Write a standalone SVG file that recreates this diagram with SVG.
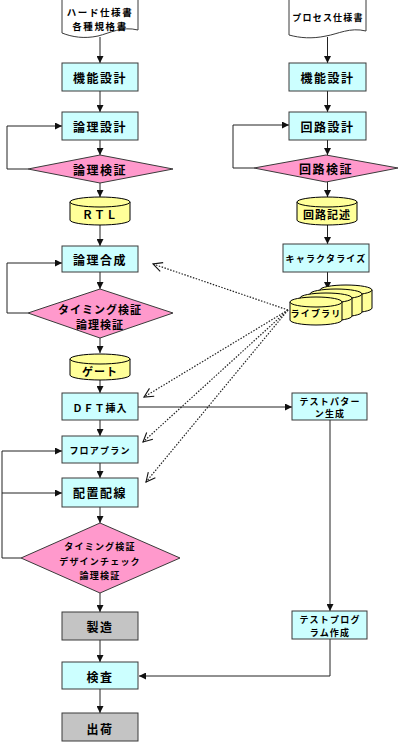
<svg xmlns="http://www.w3.org/2000/svg" width="400" height="742" viewBox="0 0 400 742">
<style>
.box{fill:#CCFFFF;stroke:#3a3a3a;stroke-width:1}
.gray{fill:#C4C4C4;stroke:#3a3a3a;stroke-width:1}
.dia{fill:#FF99CC;stroke:#3a3a3a;stroke-width:1}
.cyl{fill:#FFFF99;stroke:#000;stroke-width:1}
.doc{fill:#fff;stroke:#3a3a3a;stroke-width:1}
.ln{fill:none;stroke:#222;stroke-width:1}
.dot{fill:none;stroke:#222;stroke-width:1.2;stroke-dasharray:1.5 1.5}
text{font-family:"Noto Sans CJK JP","Noto Sans",sans-serif;font-weight:bold;fill:#000;text-anchor:middle;dominant-baseline:central}
.t12{font-size:12px;letter-spacing:1.5px}
.t11{font-size:11px;letter-spacing:1px}
.t10{font-size:10px;letter-spacing:1px}
.td{font-size:9.5px;letter-spacing:1.6px}
.t9{font-size:9px;letter-spacing:1.2px}
</style>
<defs>
<marker id="ar" viewBox="0 0 8 8" refX="8" refY="4" markerWidth="7" markerHeight="7" markerUnits="userSpaceOnUse" orient="auto">
<path d="M0,0 L8,4 L0,8 Z" fill="#111"/>
</marker>
<marker id="op" viewBox="0 0 12 12" refX="11" refY="6" markerWidth="11" markerHeight="11" markerUnits="userSpaceOnUse" orient="auto">
<path d="M1,1 L11,6 L1,11" fill="none" stroke="#111" stroke-width="1.2"/>
</marker>
</defs>

<g id="connectors">
<path class="ln" d="M100,37 V63" marker-end="url(#ar)"/>
<path class="ln" d="M100,91 V112" marker-end="url(#ar)"/>
<path class="ln" d="M100,140 V155" marker-end="url(#ar)"/>
<path class="ln" d="M100,183 V197" marker-end="url(#ar)"/>
<path class="ln" d="M100,225 V246" marker-end="url(#ar)"/>
<path class="ln" d="M100,272 V289" marker-end="url(#ar)"/>
<path class="ln" d="M100,338 V353" marker-end="url(#ar)"/>
<path class="ln" d="M100,380 V393" marker-end="url(#ar)"/>
<path class="ln" d="M100,420 V436" marker-end="url(#ar)"/>
<path class="ln" d="M100,463 V478" marker-end="url(#ar)"/>
<path class="ln" d="M100,507 V523" marker-end="url(#ar)"/>
<path class="ln" d="M100,593 V612" marker-end="url(#ar)"/>
<path class="ln" d="M100,640 V662" marker-end="url(#ar)"/>
<path class="ln" d="M100,689 V713" marker-end="url(#ar)"/>
<path class="ln" d="M28,169 H7 V126 H62" marker-end="url(#ar)"/>
<path class="ln" d="M28,313 H7 V263 H62" marker-end="url(#ar)"/>
<path class="ln" d="M21,558 H2 V451 H62" marker-end="url(#ar)"/>
<path class="ln" d="M2,493 H62" marker-end="url(#ar)"/>
<path class="ln" d="M254,168 H233 V125 H289" marker-end="url(#ar)"/>
<path class="ln" d="M327.5,37 V63" marker-end="url(#ar)"/>
<path class="ln" d="M327.5,91 V112" marker-end="url(#ar)"/>
<path class="ln" d="M327.5,140 V155" marker-end="url(#ar)"/>
<path class="ln" d="M327.5,182 V197" marker-end="url(#ar)"/>
<path class="ln" d="M327.5,225 V244" marker-end="url(#ar)"/>
<path class="ln" d="M327.5,272 V289" marker-end="url(#ar)"/>
<path class="ln" d="M138,407 H292" marker-end="url(#ar)"/>
<path class="ln" d="M330,420 V611" marker-end="url(#ar)"/>
<path class="ln" d="M330,639 V676 H139" marker-end="url(#ar)"/>
</g>

<g id="n_hard_spec">
<path class="doc" d="M62,-1 H138 V30 C122,26 110,33 98,36 C84,39 72,37 62,33 Z"/>
<text class="td" x="100" y="11.5">ハード仕様書</text>
<text class="td" x="100" y="25.5">各種規格書</text>
</g>
<g id="n_process_spec">
<path class="doc" d="M289,-1 H366 V31 C350,27 338,34 326,36 C312,39 300,38 289,35 Z"/>
<text class="t9" x="328" y="17">プロセス仕様書</text>
</g>

<g id="n_func_l"><rect class="box" x="62" y="63" width="76" height="28"/><text class="t12" x="100" y="77">機能設計</text></g>
<g id="n_logic_design"><rect class="box" x="62" y="112" width="76" height="28"/><text class="t12" x="100" y="126">論理設計</text></g>
<g id="n_logic_verify"><polygon class="dia" points="100,155 173,169 100,183 28,169"/><text class="t12" x="100" y="169">論理検証</text></g>
<g id="n_rtl">
<path class="cyl" d="M70,202 A30,5 0 0 1 130,202 V220 A30,5 0 0 1 70,220 Z"/>
<path class="cyl" d="M70,202 A30,5 0 0 0 130,202" fill="none"/>
<text class="t11" x="100" y="214">ＲＴＬ</text>
</g>
<g id="n_synth"><rect class="box" x="62" y="246" width="76" height="26"/><text class="t12" x="100" y="259">論理合成</text></g>
<g id="n_timing1"><polygon class="dia" points="100,289 173,313 100,338 28,313"/>
<text class="t11" x="100" y="309">タイミング検証</text><text class="t11" x="100" y="324">論理検証</text></g>
<g id="n_gate">
<path class="cyl" d="M70,359 A30,5 0 0 1 130,359 V375 A30,5 0 0 1 70,375 Z"/>
<path class="cyl" d="M70,359 A30,5 0 0 0 130,359" fill="none"/>
<text class="t11" x="100" y="371">ゲート</text>
</g>
<g id="n_dft"><rect class="box" x="62" y="393" width="76" height="27"/><text class="t10" x="100" y="407">ＤＦＴ挿入</text></g>
<g id="n_floor"><rect class="box" x="62" y="436" width="76" height="27"/><text class="t9" x="100" y="450">フロアプラン</text></g>
<g id="n_pnr"><rect class="box" x="62" y="478" width="76" height="29"/><text class="t12" x="100" y="492">配置配線</text></g>
<g id="n_timing2"><polygon class="dia" points="100,523 180,558 100,593 21,558"/>
<text class="t9" x="100" y="546">タイミング検証</text><text class="t9" x="100" y="561">デザインチェック</text><text class="t9" x="100" y="575">論理検証</text></g>
<g id="n_mfg"><rect class="gray" x="62" y="612" width="76" height="28"/><text class="t12" x="100" y="626">製造</text></g>
<g id="n_test"><rect class="box" x="62" y="662" width="76" height="27"/><text class="t12" x="100" y="676">検査</text></g>
<g id="n_ship"><rect class="gray" x="62" y="713" width="76" height="28"/><text class="t12" x="100" y="728">出荷</text></g>

<g id="n_func_r"><rect class="box" x="289" y="63" width="77" height="28"/><text class="t12" x="327.5" y="77">機能設計</text></g>
<g id="n_circuit_design"><rect class="box" x="289" y="112" width="77" height="28"/><text class="t12" x="327.5" y="126">回路設計</text></g>
<g id="n_circuit_verify"><polygon class="dia" points="326,155 398,168 326,182 254,168"/><text class="t12" x="326" y="168">回路検証</text></g>
<g id="n_circuit_desc">
<path class="cyl" d="M297,202 A30,5 0 0 1 357,202 V220 A30,5 0 0 1 297,220 Z"/>
<path class="cyl" d="M297,202 A30,5 0 0 0 357,202" fill="none"/>
<text class="t11" x="327" y="214">回路記述</text>
</g>
<g id="n_character"><rect class="box" x="283" y="244" width="86" height="28"/><text class="t9" x="326" y="258">キャラクタライズ</text></g>
<g id="n_library">
<path class="cyl" d="M320,290 A26,5 0 0 1 372,290 V308 A26,5 0 0 1 320,308 Z"/><path class="cyl" d="M320,290 A26,5 0 0 0 372,290" fill="none"/>
<path class="cyl" d="M310,294 A26,5 0 0 1 362,294 V312 A26,5 0 0 1 310,312 Z"/><path class="cyl" d="M310,294 A26,5 0 0 0 362,294" fill="none"/>
<path class="cyl" d="M300,298 A26,5 0 0 1 352,298 V316 A26,5 0 0 1 300,316 Z"/><path class="cyl" d="M300,298 A26,5 0 0 0 352,298" fill="none"/>
<path class="cyl" d="M290,302 A26,5 0 0 1 342,302 V320 A26,5 0 0 1 290,320 Z"/><path class="cyl" d="M290,302 A26,5 0 0 0 342,302" fill="none"/>
<text class="t9" x="316" y="313">ライブラリ</text>
</g>
<g id="n_testpattern"><rect class="box" x="292" y="393" width="75" height="27"/>
<text class="t9" x="330" y="401">テストパター</text><text class="t9" x="330" y="413">ン生成</text></g>
<g id="n_testprog"><rect class="box" x="292" y="611" width="75" height="28"/>
<text class="t9" x="330" y="619">テストプログ</text><text class="t9" x="330" y="632">ラム作成</text></g>

<g id="library_links">
<path class="dot" d="M288,310 L153,264" marker-end="url(#op)"/>
<path class="dot" d="M288,310 L144,397" marker-end="url(#op)"/>
<path class="dot" d="M288,310 L143,442" marker-end="url(#op)"/>
<path class="dot" d="M288,310 L146,482" marker-end="url(#op)"/>
</g>
</svg>
